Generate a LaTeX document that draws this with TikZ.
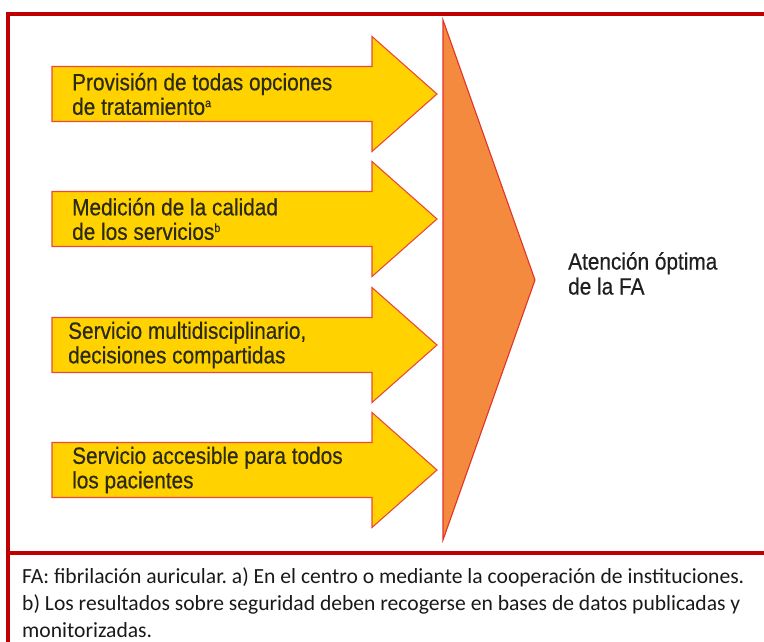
\documentclass[tikz,border=0pt]{standalone}
\usepackage{fontspec}
\setmainfont{Liberation Sans}[FakeStretch=0.885, FakeBold=0.5]
\newfontfamily\notefont{Carlito}
\usetikzlibrary{positioning}
\frenchspacing
\newcommand\refmark[1]{\raisebox{0.62ex}{\fontsize{12}{12}\selectfont #1}}

\definecolor{framered}{HTML}{C00000}
\definecolor{arrowfill}{HTML}{FFD200}
\definecolor{arrowline}{HTML}{E8493A}
\definecolor{triafill}{HTML}{F48A3E}
\definecolor{trialine}{HTML}{E2332B}
\definecolor{itemtext}{HTML}{2B2A16}

\begin{document}
\begin{tikzpicture}[x=1pt, y=-1pt]
\tikzset{
  frame/.style={draw=framered, line width=3.5pt},
  block/.style={fill=arrowfill, draw=arrowline, line width=1.1pt, line join=miter},
  wedge/.style={fill=triafill, draw=trialine, line width=1.1pt, line join=miter},
  itemlabel/.style={anchor=west, align=left, inner sep=0pt, text=itemtext,
    font=\fontsize{23.5}{24.5}\selectfont},
  goallabel/.style={anchor=west, align=left, inner sep=0pt, text=black!88,
    font=\fontsize{23.5}{25}\selectfont},
  notelabel/.style={anchor=west, align=left, inner sep=0pt, text=black!90,
    font=\notefont\fontsize{21.6}{27}\selectfont}
}
\useasboundingbox (0,0) rectangle (764,642);

% frame
\draw[frame] (766,14) -- (8,14) -- (8,644);
\draw[frame] (8,553) -- (766,553);

% four arrows
\foreach \yc/\tx/\txt [count=\i] in {
  94/72/{Provisión de todas opciones\\de tratamiento\refmark{a}},
  219/72/{Medición de la calidad\\de los servicios\refmark{b}},
  345/68/{Servicio multidisciplinario,\\decisiones compartidas},
  470/72/{Servicio accesible para todos\\los pacientes}} {
  \draw[block] (52,\yc-27.5) -- (372,\yc-27.5) -- (372,\yc-57.5) -- (437,\yc)
    -- (372,\yc+57.5) -- (372,\yc+27.5) -- (52,\yc+27.5) -- cycle;
  \node[itemlabel] (item\i) at (\tx,\yc) {\txt};
}

% big wedge
\draw[wedge] (443,20) -- (535,280) -- (443,540) -- cycle;
\node[goallabel] (goal) at (568,273.5) {Atención óptima\\de la FA};

% footnote
\node[notelabel] (note) at (22,602.5) {FA: fibrilación auricular. a) En el centro o mediante la cooperación de instituciones.\\
b) Los resultados sobre seguridad deben recogerse en bases de datos publicadas y\\
monitorizadas.};
\end{tikzpicture}
\end{document}
